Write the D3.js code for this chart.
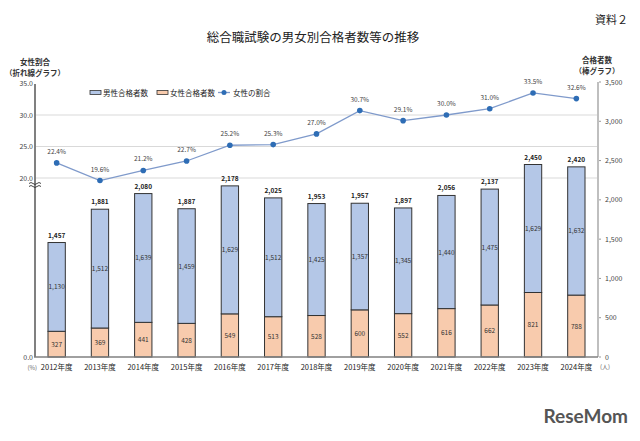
<!DOCTYPE html>
<html><head><meta charset="utf-8">
<script src="https://cdn.jsdelivr.net/npm/d3@7"></script>
<style>
html,body{margin:0;padding:0;background:#fff;}
svg{display:block;font-family:"Noto Sans CJK JP","Noto Sans",sans-serif;}
</style></head>
<body><svg id="c" width="640" height="441"></svg>
<script>
const years = ["2012年度","2013年度","2014年度","2015年度","2016年度","2017年度","2018年度","2019年度","2020年度","2021年度","2022年度","2023年度","2024年度"];
const maleCounts = [1130,1512,1639,1459,1629,1512,1425,1357,1345,1440,1475,1629,1632];
const femaleCounts = [327,369,441,428,549,513,528,600,552,616,662,821,788];
const totalCounts = [1457,1881,2080,1887,2178,2025,1953,1957,1897,2056,2137,2450,2420];
const femaleRatio = [22.4,19.6,21.2,22.7,25.2,25.3,27.0,30.7,29.1,30.0,31.0,33.5,32.6];
const leftTicks = [35,30,25,20];
const rightTicks = [0,500,1000,1500,2000,2500,3000,3500];

const svg = d3.select("#c");
const x0 = 35, x1 = 598, yBase = 357, yTop = 82;
const x = d3.scaleBand().domain(years).range([x0,x1]).paddingInner(0.6).paddingOuter(0.3);
const yR = d3.scaleLinear().domain([0,3500]).range([yBase,yTop]);
const yL = d3.scaleLinear().domain([20,35]).range([178,83.5]);
const fmt = d3.format(",");

// title
svg.append("text").attr("x",313).attr("y",42).attr("text-anchor","middle")
  .attr("font-size",12.5).attr("fill","#222").text("総合職試験の男女別合格者数等の推移");
svg.append("text").attr("x",628).attr("y",24).attr("text-anchor","end")
  .attr("font-size",11).attr("fill","#222").text("資料２");

// axis titles
svg.append("text").attr("x",35).attr("y",65).attr("text-anchor","middle").attr("font-size",7.5).attr("font-weight","bold").attr("fill","#333").text("女性割合");
svg.append("text").attr("x",35).attr("y",76).attr("text-anchor","middle").attr("font-size",7.5).attr("font-weight","bold").attr("fill","#333").text("（折れ線グラフ）");
svg.append("text").attr("x",597).attr("y",63).attr("text-anchor","middle").attr("font-size",7.5).attr("font-weight","bold").attr("fill","#333").text("合格者数");
svg.append("text").attr("x",597).attr("y",74).attr("text-anchor","middle").attr("font-size",7.5).attr("font-weight","bold").attr("fill","#333").text("（棒グラフ）");

// gridlines (left axis)
svg.append("g").selectAll("line").data([30,25,20]).join("line")
  .attr("x1",x0).attr("x2",x1).attr("y1",d=>yL(d)).attr("y2",d=>yL(d))
  .attr("stroke","#d9d9d9").attr("stroke-width",1);

// left tick labels
svg.append("g").selectAll("text").data(leftTicks).join("text")
  .attr("x",x0-2).attr("y",d=>yL(d)+2.5).attr("text-anchor","end")
  .attr("font-size",7).attr("fill","#444").text(d=>d3.format(".1f")(d));
svg.append("text").attr("x",x0-2).attr("y",yBase+2.5).attr("text-anchor","end").attr("font-size",7).attr("fill","#444").text("0.0");
svg.append("text").attr("x",x0+2).attr("y",yBase+13).attr("text-anchor","end").attr("font-size",6).attr("fill","#666").text("(%)");

// right axis
const ra = svg.append("g");
ra.append("line").attr("x1",x1).attr("x2",x1).attr("y1",yTop).attr("y2",yBase).attr("stroke","#bfbfbf").attr("stroke-width",2);
ra.selectAll("line.t").data(rightTicks).join("line").attr("class","t")
  .attr("x1",x1+1).attr("x2",x1+3).attr("y1",d=>yR(d)).attr("y2",d=>yR(d)).attr("stroke","#999");
ra.selectAll("text").data(rightTicks).join("text")
  .attr("x",x1+7).attr("y",d=>yR(d)+2.5).attr("font-size",7).attr("fill","#444").text(d=>fmt(d));
svg.append("text").attr("x",x1+2).attr("y",yBase+12).attr("font-size",6).attr("fill","#666").text("(人)");

// bars
const g = svg.append("g");
years.forEach((yr,i)=>{
  const bx = x(yr), bw = x.bandwidth();
  g.append("rect").attr("x",bx).attr("width",bw).attr("y",yR(femaleCounts[i])).attr("height",yBase-yR(femaleCounts[i]))
    .attr("fill","#f8cbad").attr("stroke","#333").attr("stroke-width",1);
  g.append("rect").attr("x",bx).attr("width",bw).attr("y",yR(totalCounts[i])).attr("height",yR(femaleCounts[i])-yR(totalCounts[i]))
    .attr("fill","#b4c7e7").attr("stroke","#333").attr("stroke-width",1);
  const cx = bx+bw/2;
  g.append("text").attr("x",cx).attr("y",(yR(femaleCounts[i])+yBase)/2+2.5).attr("text-anchor","middle").attr("font-size",6.5).attr("fill","#333").text(fmt(femaleCounts[i]));
  g.append("text").attr("x",cx).attr("y",(yR(femaleCounts[i])+yR(totalCounts[i]))/2+2.5).attr("text-anchor","middle").attr("font-size",6.5).attr("fill","#333").text(fmt(maleCounts[i]));
  g.append("text").attr("x",cx).attr("y",yR(totalCounts[i])-5).attr("text-anchor","middle").attr("font-size",6.5).attr("font-weight","bold").attr("fill","#222").text(fmt(totalCounts[i]));
  g.append("text").attr("x",cx).attr("y",yBase+13).attr("text-anchor","middle").attr("font-size",7.5).attr("fill","#222").text(yr);
});

// left axis & bottom axis
svg.append("line").attr("x1",x0).attr("x2",x0).attr("y1",yTop+2).attr("y2",yBase).attr("stroke","#808080").attr("stroke-width",2);
svg.append("line").attr("x1",x0-1).attr("x2",x1).attr("y1",yBase).attr("y2",yBase).attr("stroke","#808080").attr("stroke-width",1.5);
// break mark
const brk = svg.append("g");
[183.5,186.5].forEach(yy=>{
  brk.append("path").attr("d",`M${x0-6},${yy} q2,-2 4,0 t4,0 t4,0`).attr("fill","none").attr("stroke","#333").attr("stroke-width",0.9);
});

// line
const line = d3.line().x((d,i)=>x(years[i])+x.bandwidth()/2).y(d=>yL(d));
svg.append("path").datum(femaleRatio).attr("d",line).attr("fill","none").attr("stroke","#7f9acb").attr("stroke-width",1.3);
svg.append("g").selectAll("circle").data(femaleRatio).join("circle")
  .attr("cx",(d,i)=>x(years[i])+x.bandwidth()/2).attr("cy",d=>yL(d)).attr("r",2.8).attr("fill","#2e6db5");
svg.append("g").selectAll("text").data(femaleRatio).join("text")
  .attr("x",(d,i)=>x(years[i])+x.bandwidth()/2).attr("y",d=>yL(d)-9).attr("text-anchor","middle")
  .attr("font-size",6.5).attr("fill","#444").text(d=>d3.format(".1f")(d)+"%");

// legend
const lg = svg.append("g").attr("font-size",7.5).attr("fill","#222");
lg.append("rect").attr("x",90).attr("y",90.5).attr("width",11).attr("height",4).attr("fill","#b4c7e7").attr("stroke","#333").attr("stroke-width",0.8);
lg.append("text").attr("x",103).attr("y",95.5).text("男性合格者数");
lg.append("rect").attr("x",157).attr("y",90.5).attr("width",11).attr("height",4).attr("fill","#f8cbad").attr("stroke","#333").attr("stroke-width",0.8);
lg.append("text").attr("x",170).attr("y",95.5).text("女性合格者数");
lg.append("line").attr("x1",218).attr("x2",230).attr("y1",92.5).attr("y2",92.5).attr("stroke","#7f9acb").attr("stroke-width",1.3);
lg.append("circle").attr("cx",224).attr("cy",92.5).attr("r",2.5).attr("fill","#2e6db5");
lg.append("text").attr("x",233).attr("y",95.5).text("女性の割合");

// watermark
svg.append("text").attr("x",628).attr("y",423).attr("text-anchor","end").attr("font-size",19).attr("font-weight","bold")
  .attr("fill","#555").attr("font-family","Lato, 'DejaVu Sans', sans-serif").text("ReseMom");
</script></body></html>
